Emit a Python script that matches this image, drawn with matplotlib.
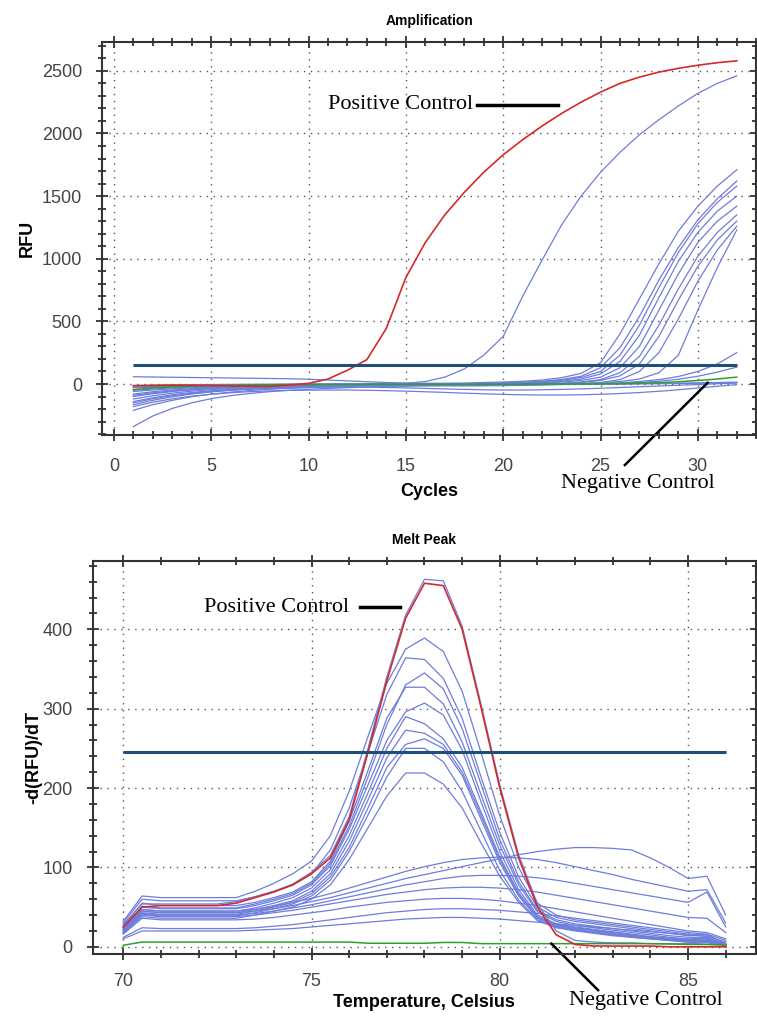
import matplotlib
matplotlib.use("Agg")
import matplotlib.pyplot as plt
from matplotlib.ticker import MultipleLocator

# ---- amplification data (RFU per cycle) ----
cycles = list(range(1, 33))

amp_positive = [-15, -12, -10, -10, -12, -15, -18, -18, -8, 5, 40, 110, 195, 445, 850, 1130,
                1350, 1530, 1690, 1830, 1950, 2060, 2160, 2250, 2330, 2400, 2450, 2490, 2520, 2545, 2565, 2580]
amp_negative = [-45, -32, -23, -17, -13, -10, -8, -6, -5, -4, -3, -3, -2, -2, -2, -2,
                -2, -2, -2, -2, -1, -1, 0, 0, 1, 3, 6, 11, 18, 28, 40, 55]
amp_samples = [
    [-60, -48, -38, -30, -24, -19, -15, -11, -8, -5, -3, -2, 0, 2, 5, 20,
     55, 120, 230, 380, 700, 990, 1270, 1500, 1690, 1850, 1990, 2110, 2220, 2320, 2400, 2460],
    [58, 56, 54, 52, 50, 48, 46, 44, 42, 38, 32, 25, 18, 12, 8, 6,
     6, 8, 12, 16, 22, 32, 50, 85, 170, 400, 680, 960, 1220, 1420, 1580, 1710],
    [-80, -62, -48, -38, -30, -24, -19, -15, -12, -9, -7, -5, -4, -3, -2, -1,
     0, 2, 5, 9, 14, 22, 36, 62, 130, 290, 540, 830, 1090, 1310, 1480, 1620],
    [-100, -78, -60, -47, -37, -29, -23, -18, -14, -11, -8, -6, -5, -4, -3, -2,
     -1, 0, 2, 6, 11, 18, 30, 52, 100, 230, 470, 770, 1050, 1280, 1450, 1580],
    [-120, -94, -73, -57, -45, -36, -29, -23, -18, -14, -11, -9, -7, -6, -5, -4,
     -3, -2, 0, 3, 7, 13, 22, 40, 80, 180, 390, 690, 980, 1210, 1380, 1500],
    [-140, -110, -86, -68, -54, -43, -34, -27, -21, -16, -12, -9, -7, -6, -6, -6,
     -6, -5, -3, 0, 4, 9, 16, 28, 55, 130, 300, 590, 880, 1130, 1300, 1420],
    [-165, -130, -102, -80, -63, -50, -40, -32, -26, -21, -17, -14, -12, -11, -10, -10,
     -10, -10, -9, -7, -4, 0, 6, 16, 35, 90, 220, 470, 760, 1020, 1210, 1350],
    [-210, -165, -130, -102, -81, -65, -52, -42, -34, -28, -23, -19, -16, -14, -13, -13,
     -13, -13, -12, -10, -7, -3, 3, 12, 28, 65, 160, 380, 670, 940, 1150, 1300],
    [-340, -255, -195, -150, -117, -93, -75, -61, -50, -42, -35, -29, -24, -20, -17, -15,
     -14, -14, -14, -13, -11, -8, -4, 2, 12, 35, 100, 250, 520, 820, 1070, 1260],
    [-30, -26, -22, -19, -16, -14, -12, -10, -9, -8, -7, -6, -6, -6, -6, -6,
     -6, -6, -6, -5, -4, -2, 0, 4, 10, 20, 40, 90, 230, 590, 930, 1230],
    [-50, -40, -32, -26, -21, -17, -14, -11, -9, -7, -6, -5, -4, -4, -4, -4,
     -4, -4, -4, -3, -2, -1, 0, 2, 5, 10, 20, 35, 60, 100, 160, 250],
    [-25, -20, -16, -13, -10, -8, -6, -5, -4, -3, -3, -3, -3, -3, -3, -3,
     -3, -3, -3, -3, -2, -1, 0, 1, 3, 6, 12, 22, 38, 62, 95, 135],
    [-180, -145, -118, -97, -82, -70, -61, -55, -51, -49, -48, -48, -50, -53, -57, -62,
     -67, -73, -78, -83, -86, -88, -88, -86, -82, -76, -68, -58, -46, -32, -18, -5],
    [-150, -118, -93, -74, -60, -49, -41, -35, -30, -27, -25, -25, -26, -28, -31, -35,
     -39, -43, -46, -48, -48, -46, -43, -39, -34, -28, -22, -16, -10, -4, 2, 8],
    [-10, -8, -6, -5, -4, -3, -2, -1, 0, 0, 0, 1, 1, 1, 1, 1,
     1, 1, 1, 0, 0, 0, 0, 0, 1, 1, 2, 3, 4, 6, 8, 10],
    [-90, -70, -55, -44, -35, -28, -23, -19, -16, -13, -11, -9, -8, -7, -6, -5,
     -4, -4, -4, -4, -4, -4, -3, -2, -1, 0, 2, 4, 6, 9, 12, 15],
]
amp_threshold = 150

# ---- melt peak data (-dRFU/dT per 0.5 C step) ----
temps = [70.0, 70.5, 71.0, 71.5, 72.0, 72.5, 73.0, 73.5, 74.0, 74.5, 75.0, 75.5, 76.0, 76.5,
         77.0, 77.5, 78.0, 78.5, 79.0, 79.5, 80.0, 80.5, 81.0, 81.5, 82.0, 82.5, 83.0, 83.5,
         84.0, 84.5, 85.0, 85.5, 86.0]

melt_positive = [25, 50, 52, 52, 52, 52, 55, 62, 69, 78, 92, 112, 160, 245, 335, 414, 458,
                 455, 400, 302, 200, 112, 50, 15, 3, 1, 1, 1, 1, 0, 0, 0, 0]
melt_negative = [2, 6, 6, 6, 6, 6, 6, 6, 6, 6, 6, 6, 6, 4.5, 4.5, 4.5, 4.5,
                 5.5, 5.5, 4, 4, 4, 4, 4, 4, 4, 4, 4, 4, 3.5, 3, 3, 2]
melt_samples = [
    [28, 54, 54, 54, 54, 54, 57, 63, 70, 79, 94, 115, 164, 250, 340, 418, 463,
     461, 404, 306, 204, 116, 54, 20, 8, 6, 5, 5, 4, 4, 4, 5, 2],
    [32, 64, 62, 62, 62, 62, 62, 70, 80, 92, 108, 140, 196, 265, 332, 375, 389,
     372, 322, 245, 165, 100, 55, 40, 34, 31, 28, 25, 22, 19, 16, 15, 4],
    [30, 60, 58, 58, 58, 58, 58, 63, 70, 78, 92, 122, 175, 245, 318, 364, 362,
     338, 288, 214, 144, 88, 50, 37, 32, 29, 26, 23, 20, 17, 14, 15, 4],
    [23, 51, 49, 49, 49, 49, 49, 54, 60, 67, 80, 105, 152, 214, 280, 330, 345,
     325, 275, 205, 135, 82, 46, 34, 29, 26, 23, 20, 17, 14, 12, 12, 3],
    [26, 55, 52, 52, 52, 52, 52, 56, 62, 69, 82, 108, 158, 222, 288, 327, 327,
     306, 258, 192, 128, 78, 44, 32, 27, 24, 21, 18, 15, 12, 10, 11, 3],
    [24, 50, 48, 48, 48, 48, 48, 52, 58, 65, 78, 102, 148, 204, 260, 296, 307,
     292, 248, 183, 120, 72, 40, 29, 25, 22, 19, 16, 13, 11, 9, 10, 3],
    [22, 47, 45, 45, 45, 45, 45, 49, 55, 62, 74, 97, 140, 194, 250, 290, 281,
     262, 226, 170, 113, 68, 38, 28, 24, 21, 18, 15, 12, 10, 8, 9, 2],
    [21, 45, 43, 43, 43, 43, 43, 47, 52, 58, 70, 92, 133, 185, 238, 273, 269,
     255, 220, 166, 110, 66, 37, 27, 23, 20, 17, 14, 12, 10, 8, 8, 2],
    [20, 43, 41, 41, 41, 41, 41, 45, 50, 56, 67, 88, 125, 175, 226, 255, 262,
     250, 216, 161, 106, 64, 36, 26, 22, 19, 16, 13, 11, 9, 7, 7, 2],
    [19, 41, 39, 39, 39, 39, 39, 43, 48, 54, 64, 84, 120, 166, 214, 250, 250,
     233, 196, 146, 96, 59, 34, 25, 21, 18, 15, 12, 10, 8, 6, 6, 2],
    [17, 38, 36, 36, 36, 36, 36, 40, 45, 50, 60, 78, 110, 150, 190, 219, 219,
     205, 175, 131, 89, 56, 33, 24, 20, 17, 14, 12, 10, 8, 6, 6, 2],
    [22, 45, 43, 43, 43, 43, 43, 45, 48, 52, 57, 62, 68, 74, 80, 86, 91,
     96, 101, 106, 111, 116, 120, 123, 125, 125, 124, 122, 112, 100, 86, 89, 40],
    [24, 47, 45, 45, 45, 45, 45, 47, 51, 56, 61, 67, 74, 81, 88, 95, 101,
     106, 110, 112, 113, 112, 110, 106, 101, 96, 91, 85, 80, 75, 70, 72, 30],
    [20, 42, 40, 40, 40, 40, 40, 42, 45, 49, 53, 58, 63, 68, 73, 78, 82,
     86, 89, 90, 90, 89, 87, 84, 80, 76, 72, 68, 64, 60, 56, 69, 25],
    [18, 40, 38, 38, 38, 38, 38, 40, 43, 46, 50, 54, 58, 62, 66, 69, 72,
     74, 75, 75, 74, 72, 69, 65, 61, 57, 53, 49, 45, 41, 37, 36, 18],
    [16, 36, 34, 34, 34, 34, 34, 35, 37, 40, 43, 46, 50, 53, 56, 58, 60,
     61, 61, 60, 58, 55, 52, 48, 44, 40, 36, 32, 28, 24, 20, 18, 10],
    [12, 24, 23, 23, 23, 23, 23, 24, 26, 28, 31, 34, 37, 40, 43, 45, 47,
     48, 48, 47, 46, 44, 42, 39, 36, 33, 30, 27, 24, 21, 18, 16, 8],
    [10, 20, 20, 20, 20, 20, 20, 21, 22, 23, 25, 27, 29, 31, 33, 35, 36,
     37, 37, 36, 35, 33, 31, 29, 27, 25, 23, 21, 19, 17, 15, 13, 6],
]
melt_threshold = 245

blue = '#6d7ddb'
red = '#d42a2a'
green = '#2ca02c'
thresh_col = '#1f4e79'
frame_col = '#333333'
tick_col = '#444444'
sans = 'Liberation Sans'
serif = 'Liberation Serif'


def style_axes(ax, xmaj, ymaj, ymin, xpad):
    ax.xaxis.set_major_locator(MultipleLocator(xmaj))
    ax.xaxis.set_minor_locator(MultipleLocator(1))
    ax.yaxis.set_major_locator(MultipleLocator(ymaj))
    ax.yaxis.set_minor_locator(MultipleLocator(ymin))
    ax.grid(True, which='major', linestyle=(0, (1, 4)), color='#555555', linewidth=1.0)
    for sp in ax.spines.values():
        sp.set_color(frame_col)
        sp.set_linewidth(1.5)
    ax.tick_params(which='both', direction='inout', colors=frame_col,
                   labelcolor=tick_col, labelsize=13, top=True, right=True, width=1.3)
    ax.tick_params(which='major', length=9)
    ax.tick_params(which='minor', length=6)
    ax.tick_params(axis='x', which='major', pad=xpad)
    ax.tick_params(axis='y', which='major', pad=10)
    for lab in ax.get_xticklabels() + ax.get_yticklabels():
        lab.set_family(sans)


fig = plt.figure(figsize=(7.57, 10.18), dpi=100)

# ---------- Amplification ----------
ax1 = fig.add_axes([0.135, 0.5727, 0.864, 0.386])
for s in amp_samples:
    ax1.plot(cycles, s, color=blue, linewidth=0.9)
ax1.plot(cycles, amp_negative, color=green, linewidth=1.1)
ax1.plot(cycles, amp_positive, color=red, linewidth=1.2)
ax1.hlines(amp_threshold, cycles[0], cycles[-1], color=thresh_col, linewidth=2.2)
ax1.set_xlim(-0.6, 33.0)
ax1.set_ylim(-407, 2730)
style_axes(ax1, 5, 500, 100, 12)
ax1.set_title('Amplification', fontsize=10, fontweight='bold', family=sans, pad=12)
ax1.set_xlabel('Cycles', fontsize=13, fontweight='bold', family=sans, labelpad=6)
ax1.set_ylabel('RFU', fontsize=13, fontweight='bold', family=sans, labelpad=4)

ax1.text(18.45, 2228, 'Positive Control', family=serif, fontsize=16,
         ha='right', va='center')
ax1.plot([18.65, 22.8], [2228, 2228], color='black', linewidth=2.5)
ax1.plot([30.5, 26.25], [10, -647], color='black', linewidth=1.8, clip_on=False)
ax1.text(26.9, -791, 'Negative Control', family=serif, fontsize=16,
         ha='center', va='center', clip_on=False)

# ---------- Melt Peak ----------
ax2 = fig.add_axes([0.1225, 0.0629, 0.876, 0.386])
for s in melt_samples:
    ax2.plot(temps, s, color=blue, linewidth=0.9)
ax2.plot(temps, melt_negative, color=green, linewidth=1.1)
ax2.plot(temps, melt_positive, color=red, linewidth=1.2)
ax2.hlines(melt_threshold, temps[0], temps[-1], color=thresh_col, linewidth=2.2)
ax2.set_xlim(69.19, 86.8)
ax2.set_ylim(-9, 486)
style_axes(ax2, 5, 100, 20, 9)
ax2.set_title('Melt Peak', fontsize=10, fontweight='bold', family=sans, pad=12)
ax2.set_xlabel('Temperature, Celsius', fontsize=13, fontweight='bold', family=sans, labelpad=3)
ax2.set_ylabel('-d(RFU)/dT', fontsize=13, fontweight='bold', family=sans, labelpad=0)

ax2.text(76.0, 428, 'Positive Control', family=serif, fontsize=16,
         ha='right', va='center')
ax2.plot([76.28, 77.35], [428, 428], color='black', linewidth=2.5)
ax2.plot([81.37, 82.61], [4, -54.6], color='black', linewidth=1.8, clip_on=False)
ax2.text(83.88, -68, 'Negative Control', family=serif, fontsize=16,
         ha='center', va='center', clip_on=False)

fig.savefig('out.png', dpi=100)
